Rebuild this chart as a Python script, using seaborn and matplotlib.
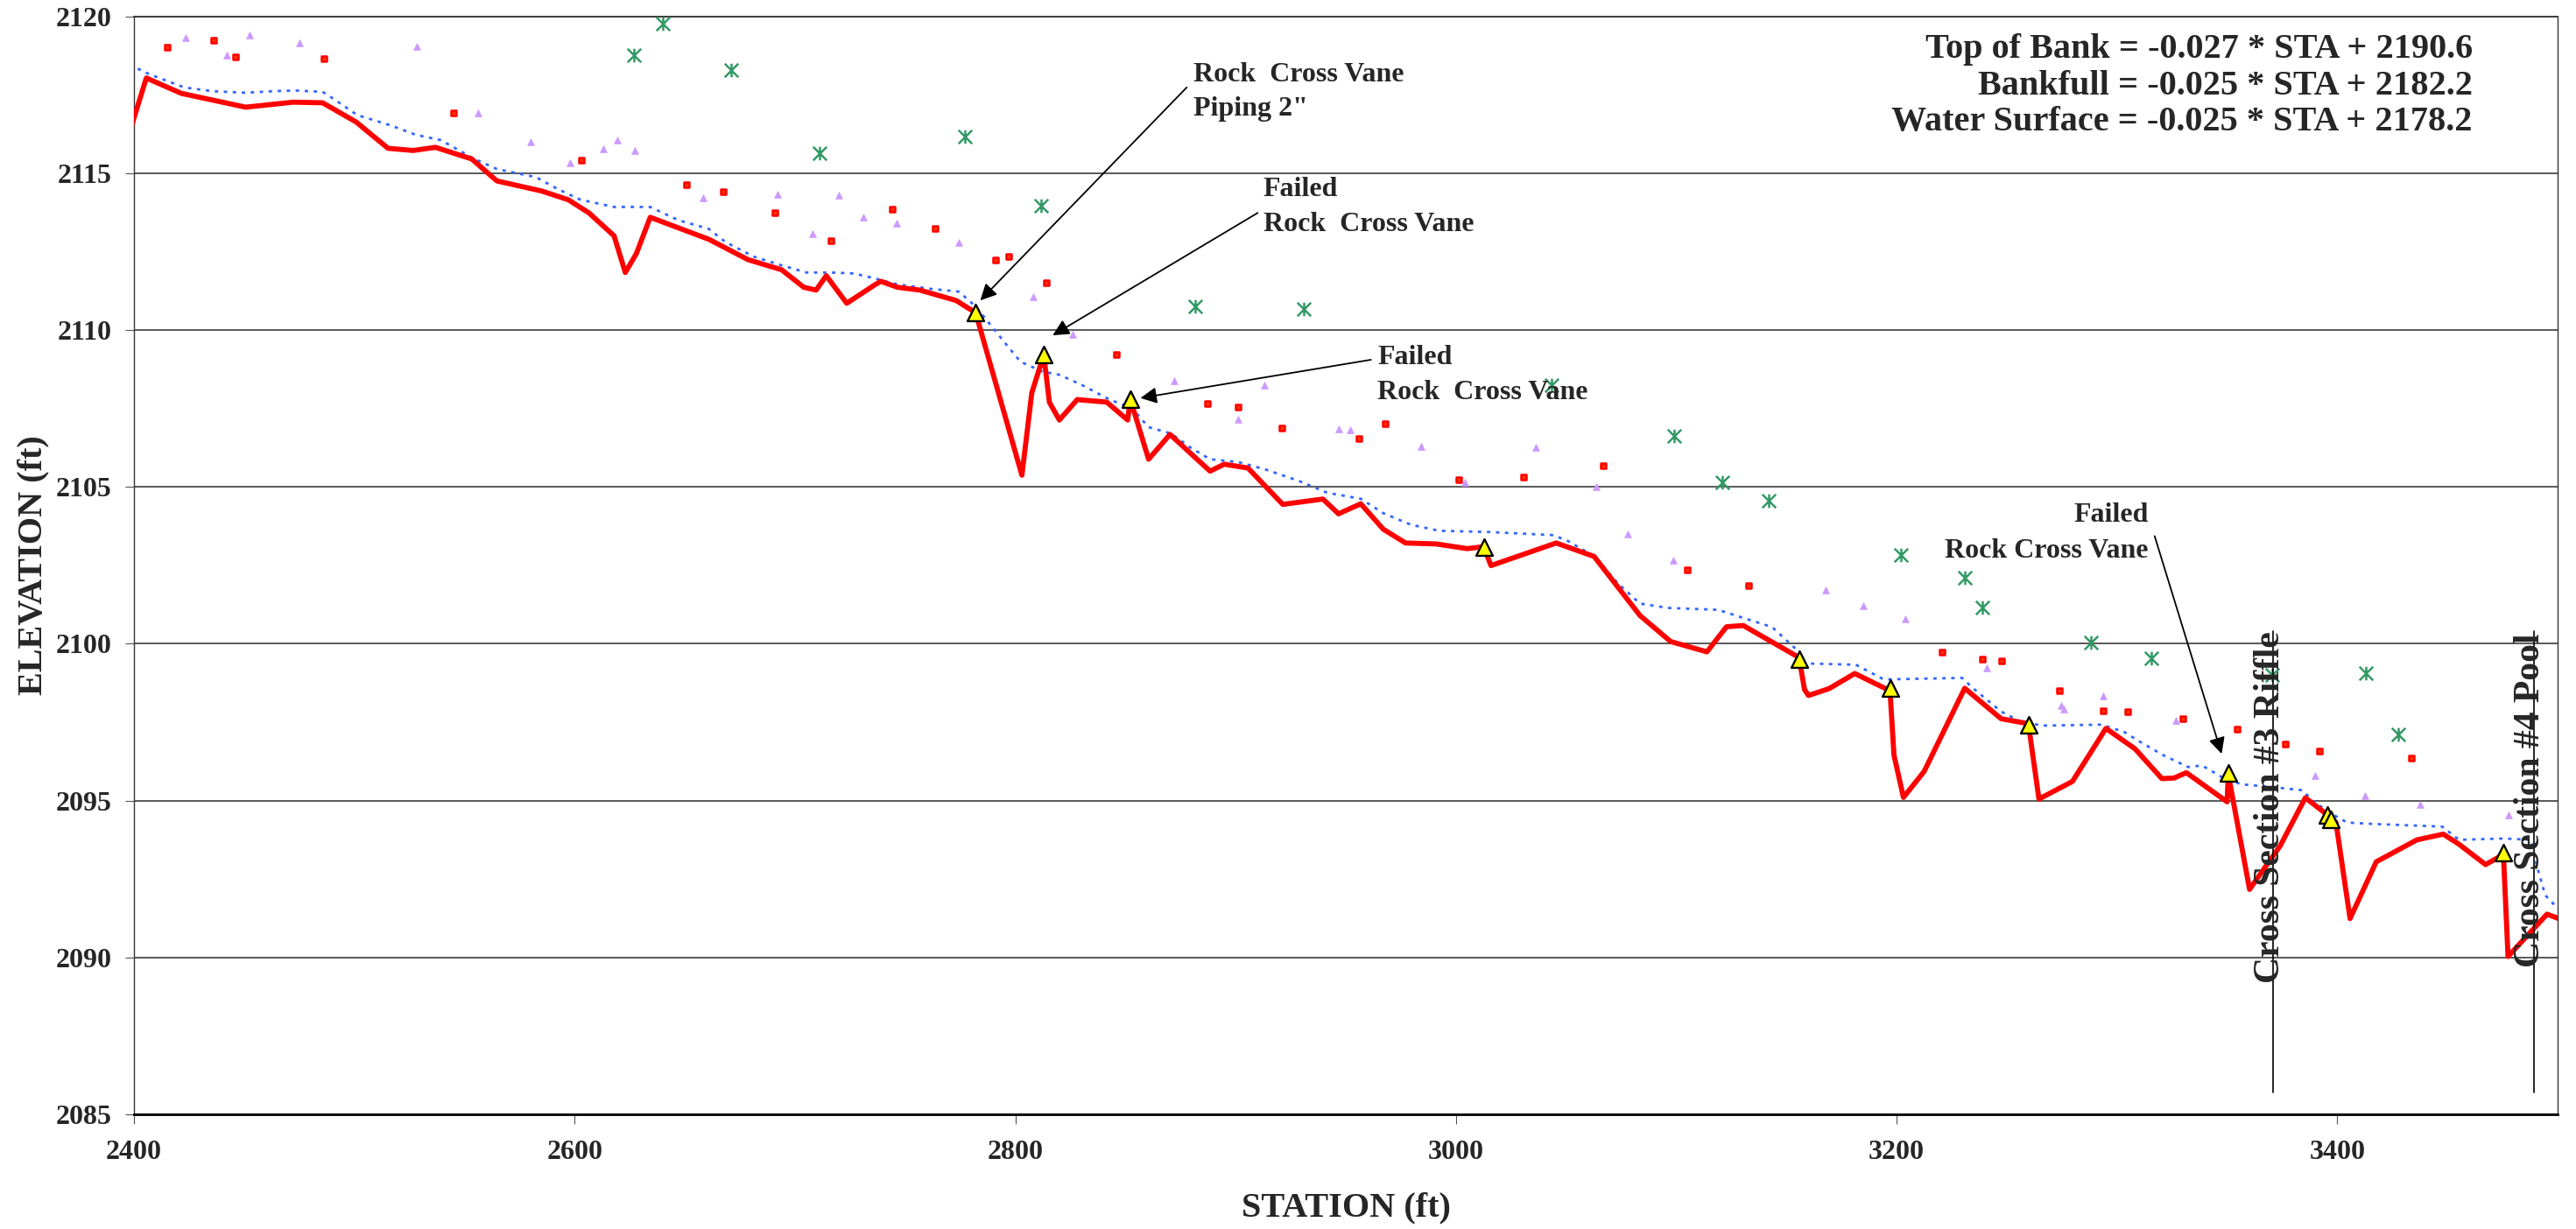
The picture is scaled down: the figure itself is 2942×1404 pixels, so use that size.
import matplotlib
matplotlib.use("Agg")
import matplotlib.pyplot as plt
from matplotlib.path import Path
import pandas as pd
import seaborn as sns

# ---- Longitudinal profile survey (station ft, elevation ft) ----
thalweg_sta = [2398, 2405.6, 2421.5, 2450.7, 2472.2, 2485.6, 2500.8, 2515.3, 2526.7, 2536.8,
               2553.3, 2564.7, 2584.9, 2597.1, 2606.5, 2617.9, 2623.0, 2628.0, 2634.3, 2660.9,
               2678.7, 2693.9, 2704.0, 2709.6, 2714.2, 2723.5, 2736.5, 2739.0, 2746.5, 2756.7,
               2773.1, 2782.0, 2803.0, 2807.5, 2812.9, 2815.5, 2820.0, 2828.1, 2841.5, 2851.0,
               2852.2, 2860.5, 2870.2, 2888.4, 2894.8, 2905.6, 2921.4, 2939.6, 2946.7, 2956.8,
               2967.0, 2977.1, 2991.0, 3005.0, 3012.6, 3015.9, 3045.5, 3062.7, 3083.5, 3097.4,
               3113.9, 3122.8, 3130.4, 3155.7, 3158.2, 3160.0, 3169.4, 3181.0, 3197.0, 3198.8,
               3203.1, 3212.5, 3230.9, 3247.4, 3259.8, 3264.6, 3279.8, 3295.0, 3308.2, 3320.4,
               3326.0, 3331.5, 3350.0, 3350.5, 3360.2, 3374.1, 3385.5, 3395.6, 3399.4, 3405.8,
               3417.7, 3436.2, 3448.1, 3455.2, 3467.3, 3475.4, 3477.5, 3495.2, 3503.8]
thalweg_elev = [2116.3, 2118.03, 2117.54, 2117.1, 2117.26, 2117.24, 2116.63, 2115.79, 2115.72, 2115.82,
                2115.45, 2114.75, 2114.43, 2114.15, 2113.73, 2113.0, 2111.83, 2112.43, 2113.59, 2112.89,
                2112.24, 2111.92, 2111.36, 2111.27, 2111.73, 2110.85, 2111.45, 2111.55, 2111.36, 2111.27,
                2110.94, 2110.55, 2105.37, 2108.0, 2109.2, 2107.69, 2107.13, 2107.78, 2107.7, 2107.13,
                2107.79, 2105.88, 2106.67, 2105.5, 2105.72, 2105.6, 2104.44, 2104.61, 2104.14, 2104.46,
                2103.65, 2103.21, 2103.18, 2103.03, 2103.09, 2102.49, 2103.21, 2102.78, 2100.9, 2100.07,
                2099.74, 2100.54, 2100.58, 2099.56, 2098.54, 2098.35, 2098.57, 2099.05, 2098.5, 2096.45,
                2095.1, 2095.93, 2098.58, 2097.61, 2097.45, 2095.05, 2095.61, 2097.3, 2096.65, 2095.7,
                2095.72, 2095.89, 2094.96, 2095.85, 2092.17, 2093.56, 2095.09, 2094.54, 2094.3, 2091.24,
                2093.05, 2093.75, 2093.93, 2093.61, 2092.96, 2093.28, 2090.03, 2091.38, 2091.15]

water_sta = [2398, 2407.0, 2422.8, 2435.5, 2450.7, 2463.3, 2473.5, 2485.6, 2490.7, 2501.3,
             2516.5, 2527.9, 2539.3, 2554.5, 2564.7, 2582.4, 2592.6, 2602.7, 2617.9, 2634.3,
             2647.0, 2660.9, 2668.5, 2681.2, 2693.9, 2705.3, 2716.7, 2726.8, 2736.4, 2746.5,
             2761.7, 2774.4, 2782.0, 2794.7, 2802.3, 2812.4, 2820.0, 2830.1, 2842.8, 2853.0,
             2860.5, 2870.7, 2879.5, 2888.4, 2901.1, 2913.7, 2929.0, 2941.6, 2956.8, 2967.0,
             2979.6, 2992.3, 3015.1, 3044.2, 3050.6, 3063.2, 3073.4, 3083.5, 3096.2, 3119.0,
             3130.9, 3143.5, 3154.9, 3158.7, 3181.5, 3194.2, 3229.7, 3234.7, 3247.4, 3257.5,
             3267.7, 3293.0, 3303.2, 3310.8, 3320.9, 3332.3, 3338.6, 3348.8, 3356.4, 3371.6,
             3384.2, 3389.3, 3399.4, 3404.5, 3414.6, 3447.6, 3455.2, 3475.4, 3488.1, 3490.6,
             3494.4, 3501.0]
water_elev = [2118.45, 2118.15, 2117.73, 2117.61, 2117.56, 2117.61, 2117.63, 2117.59, 2117.36, 2116.85,
              2116.52, 2116.22, 2116.05, 2115.45, 2115.13, 2114.87, 2114.48, 2114.15, 2113.92, 2113.92,
              2113.5, 2113.22, 2112.8, 2112.34, 2112.06, 2111.83, 2111.83, 2111.8, 2111.64, 2111.45,
              2111.31, 2111.22, 2110.75, 2109.64, 2108.99, 2108.67, 2108.57, 2108.25, 2107.78, 2107.5,
              2106.9, 2106.7, 2106.25, 2105.88, 2105.79, 2105.55, 2105.18, 2104.81, 2104.62, 2104.16,
              2103.79, 2103.6, 2103.56, 2103.46, 2103.28, 2102.77, 2101.93, 2101.28, 2101.14, 2101.08,
              2100.81, 2100.53, 2099.79, 2099.37, 2099.33, 2098.86, 2098.91, 2098.58, 2097.84, 2097.47,
              2097.39, 2097.42, 2097.19, 2096.86, 2096.45, 2096.07, 2096.12, 2095.7, 2095.52, 2095.42,
              2095.33, 2094.96, 2094.5, 2094.3, 2094.26, 2094.17, 2093.75, 2093.79, 2093.75, 2092.91,
              2091.98, 2091.5]

bankfull_sq_sta = [2415.2, 2436.2, 2446.1, 2486.1, 2544.9, 2603.2, 2650.8, 2667.3, 2690.8, 2716.2,
                   2744.0, 2763.8, 2790.9, 2797.2, 2813.9, 2845.9, 2887.2, 2901.1, 2920.8, 2955.8,
                   2967.7, 3001.2, 3030.8, 3066.8, 3104.8, 3132.9, 3220.8, 3238.8, 3247.7, 3273.8,
                   3293.8, 3304.7, 3329.8, 3354.6, 3376.6, 3391.8, 3433.6]
bankfull_sq_elev = [2119.01, 2119.23, 2118.7, 2118.66, 2116.91, 2115.42, 2114.64, 2114.4, 2113.75, 2112.85,
                    2113.84, 2113.24, 2112.22, 2112.34, 2111.5, 2109.22, 2107.66, 2107.55, 2106.88, 2106.53,
                    2107.02, 2105.23, 2105.3, 2105.66, 2102.35, 2101.86, 2099.72, 2099.51, 2099.44, 2098.51,
                    2097.87, 2097.82, 2097.6, 2097.28, 2096.8, 2096.59, 2096.35]

bankfull_tri_sta = [2423.3, 2442.1, 2452.4, 2475.2, 2528.2, 2556.1, 2580.1, 2598.1, 2613.1, 2619.2,
                    2627.3, 2658.2, 2692.1, 2708.1, 2720.0, 2731.1, 2746.0, 2774.2, 2808.1, 2826.1,
                    2872.2, 2913.0, 2901.1, 2946.7, 2952.0, 2984.0, 3004.2, 3036.1, 3063.7, 3078.0,
                    3098.7, 3167.9, 3184.8, 3203.8, 3240.8, 3274.8, 3276.0, 3293.8, 3326.7, 3389.8,
                    3412.6, 3437.7, 3477.7]
bankfull_tri_elev = [2119.33, 2118.77, 2119.4, 2119.14, 2119.05, 2116.91, 2116.01, 2115.33, 2115.76, 2116.05,
                     2115.72, 2114.21, 2114.33, 2113.08, 2114.29, 2113.59, 2113.41, 2112.8, 2111.05, 2109.85,
                     2108.39, 2108.25, 2107.15, 2106.85, 2106.81, 2106.3, 2105.14, 2106.25, 2105.01, 2103.51,
                     2102.67, 2101.7, 2101.21, 2100.79, 2099.23, 2098.04, 2097.93, 2098.33, 2097.56, 2095.81,
                     2095.16, 2094.87, 2094.54]

top_bank_sta = [2627.0, 2640.0, 2671.1, 2711.1, 2777.0, 2811.9, 2881.8, 2931.0, 3043.5, 3099.0,
                3120.7, 3141.8, 3201.8, 3231.0, 3239.1, 3288.0, 3315.8, 3370.3, 3412.9, 3427.8]
top_bank_elev = [2118.75, 2119.77, 2118.29, 2115.64, 2116.15, 2113.96, 2110.76, 2110.66, 2108.25, 2106.62,
                 2105.15, 2104.56, 2102.83, 2102.09, 2101.16, 2100.05, 2099.54, 2099.0, 2099.07, 2097.1]

structure_sta = [2782.0, 2812.9, 2852.2, 3012.6, 3155.7, 3197.0, 3260.0, 3350.5, 3395.6, 3397.0, 3475.4]
structure_elev = [2110.55, 2109.22, 2107.79, 2103.09, 2099.52, 2098.58, 2097.42, 2095.87, 2094.54, 2094.4, 2093.33]

equations = ["Top of Bank = -0.027 * STA + 2190.6",
             "Bankfull = -0.025 * STA + 2182.2",
             "Water Surface = -0.025 * STA + 2178.2"]

# structure callouts: text lines, anchor station, line elevations, alignment, arrow tail, arrow tip
callouts = [
    (["Rock  Cross Vane", 'Piping 2"'], 2880.8, [2118.14, 2117.03], "left", (2877.8, 2117.73), (2784.1, 2110.94)),
    (["Failed", "Rock  Cross Vane"], 2912.5, [2114.47, 2113.36], "left", (2910.0, 2113.73), (2817.0, 2109.83)),
    (["Failed", "Rock  Cross Vane"], 2964.4, [2109.13, 2108.01], "left", (2961.4, 2109.05), (2856.8, 2107.83)),
    (["Failed", "Rock Cross Vane"], 3314.4, [2104.11, 2102.95], "right", (3317.1, 2103.43), (3347.5, 2096.49)),
]

section_names = ["Cross Section #3 Riffle", "Cross Section #4 Pool"]
section_sta = [3371.0, 3489.3]
section_text_elev = [2094.8, 2095.0]
section_line_top = 2100.4
section_line_bottom = 2085.7

x_ticks = [2400, 2600, 2800, 3000, 3200, 3400]
y_ticks = [2085, 2090, 2095, 2100, 2105, 2110, 2115, 2120]

# ---- styling ----
sns.set_style("white")
plt.rcParams["font.family"] = ["Liberation Serif", "DejaVu Serif"]
plt.rcParams["font.weight"] = "bold"
plt.rcParams["axes.labelweight"] = "bold"

fig = plt.figure(figsize=(29.42, 14.04), dpi=100)
ax = fig.add_axes([153 / 2942, 1 - 1273 / 1404, 2768 / 2942, 1254.5 / 1404])

thalweg = pd.DataFrame({"sta": thalweg_sta, "elev": thalweg_elev})
water = pd.DataFrame({"sta": water_sta, "elev": water_elev})
bkf_sq = pd.DataFrame({"sta": bankfull_sq_sta, "elev": bankfull_sq_elev})
bkf_tri = pd.DataFrame({"sta": bankfull_tri_sta, "elev": bankfull_tri_elev})
tob = pd.DataFrame({"sta": top_bank_sta, "elev": top_bank_elev})
struct = pd.DataFrame({"sta": structure_sta, "elev": structure_elev})

# water surface (dotted blue)
sns.lineplot(data=water, x="sta", y="elev", sort=False, estimator=None, ax=ax,
             color="#3366FF", linewidth=2.0, linestyle=(0, (1.4, 2.3)), zorder=3)
# thalweg (thick red)
sns.lineplot(data=thalweg, x="sta", y="elev", sort=False, estimator=None, ax=ax,
             color="#FF0000", linewidth=4.2, zorder=4)

# bank survey points
sns.scatterplot(data=bkf_sq, x="sta", y="elev", ax=ax, marker="s", s=16,
                color="#FF3300", edgecolor="#FF0000", linewidth=1.8, zorder=5)
sns.scatterplot(data=bkf_tri, x="sta", y="elev", ax=ax, marker="^", s=32,
                color="#CC99FF", edgecolor="#CC99FF", linewidth=0.5, zorder=5)

asterisk = Path([(-1, -1), (1, 1), (-1, 1), (1, -1), (0, -1), (0, 1)],
                [Path.MOVETO, Path.LINETO] * 3)
sns.scatterplot(data=tob, x="sta", y="elev", ax=ax, marker=asterisk, s=125,
                color="#339966", edgecolor="#339966", linewidth=1.8, zorder=5)

# in-stream structures
sns.scatterplot(data=struct, x="sta", y="elev", ax=ax, marker="^", s=185,
                color="#FFFF00", edgecolor="black", linewidth=1.7, zorder=6)

# cross-section markers
for name, sta, te in zip(section_names, section_sta, section_text_elev):
    ax.plot([sta, sta], [section_line_bottom, section_line_top], color="black", lw=1.2, zorder=6)
    ax.text(sta - 1.5, te, name, rotation=90, ha="center", va="center",
            fontsize=30, fontweight="bold", zorder=7)

# structure callouts with arrows
for lines, sx, ys, ha, tail, tip in callouts:
    for txt, yy in zip(lines, ys):
        ax.text(sx, yy, txt, ha=ha, va="center", fontsize=23, fontweight="bold", zorder=7)
    ax.annotate("", xy=tip, xytext=tail,
                arrowprops=dict(arrowstyle="-|>", color="black", lw=1.3,
                                mutation_scale=28, shrinkA=0, shrinkB=0),
                zorder=7)

# regression equations
for eq, yy in zip(equations, [2118.93, 2117.78, 2116.63]):
    ax.text(3461.4, yy, eq, ha="right", va="center", fontsize=29, fontweight="bold", zorder=7)

# axes
ax.set_xlim(2400, 3500)
ax.set_ylim(2085, 2120)
ax.set_xticks(x_ticks)
ax.set_yticks(y_ticks)
ax.set_xticklabels([str(t) for t in x_ticks], fontsize=23, fontweight="bold")
ax.set_yticklabels([str(t) for t in y_ticks], fontsize=23, fontweight="bold")
ax.tick_params(axis="y", direction="out", length=7.2, width=0.8, color="#555555", pad=11, left=True)
ax.tick_params(axis="x", direction="out", length=7.9, width=0.8, color="#555555", pad=13, bottom=True)

ax.grid(axis="y", color="#2b2b2b", linewidth=1.1)
ax.grid(axis="x", visible=False)
ax.set_axisbelow(True)

for side in ["left", "right"]:
    ax.spines[side].set_color("#333333")
    ax.spines[side].set_linewidth(1.0)
ax.spines["top"].set_color("#333333")
ax.spines["top"].set_linewidth(1.3)
ax.spines["bottom"].set_color("black")
ax.spines["bottom"].set_linewidth(2.0)

ax.set_xlabel("STATION (ft)", fontsize=29, fontweight="bold", va="center")
ax.set_ylabel("ELEVATION (ft)", fontsize=29, fontweight="bold", va="center")
ax.xaxis.set_label_coords(0.5, (1273 - 1380) / 1254.5)
ax.yaxis.set_label_coords((38 - 153) / 2768, 0.5)

fig.savefig("out.png", dpi=100, facecolor="white")
